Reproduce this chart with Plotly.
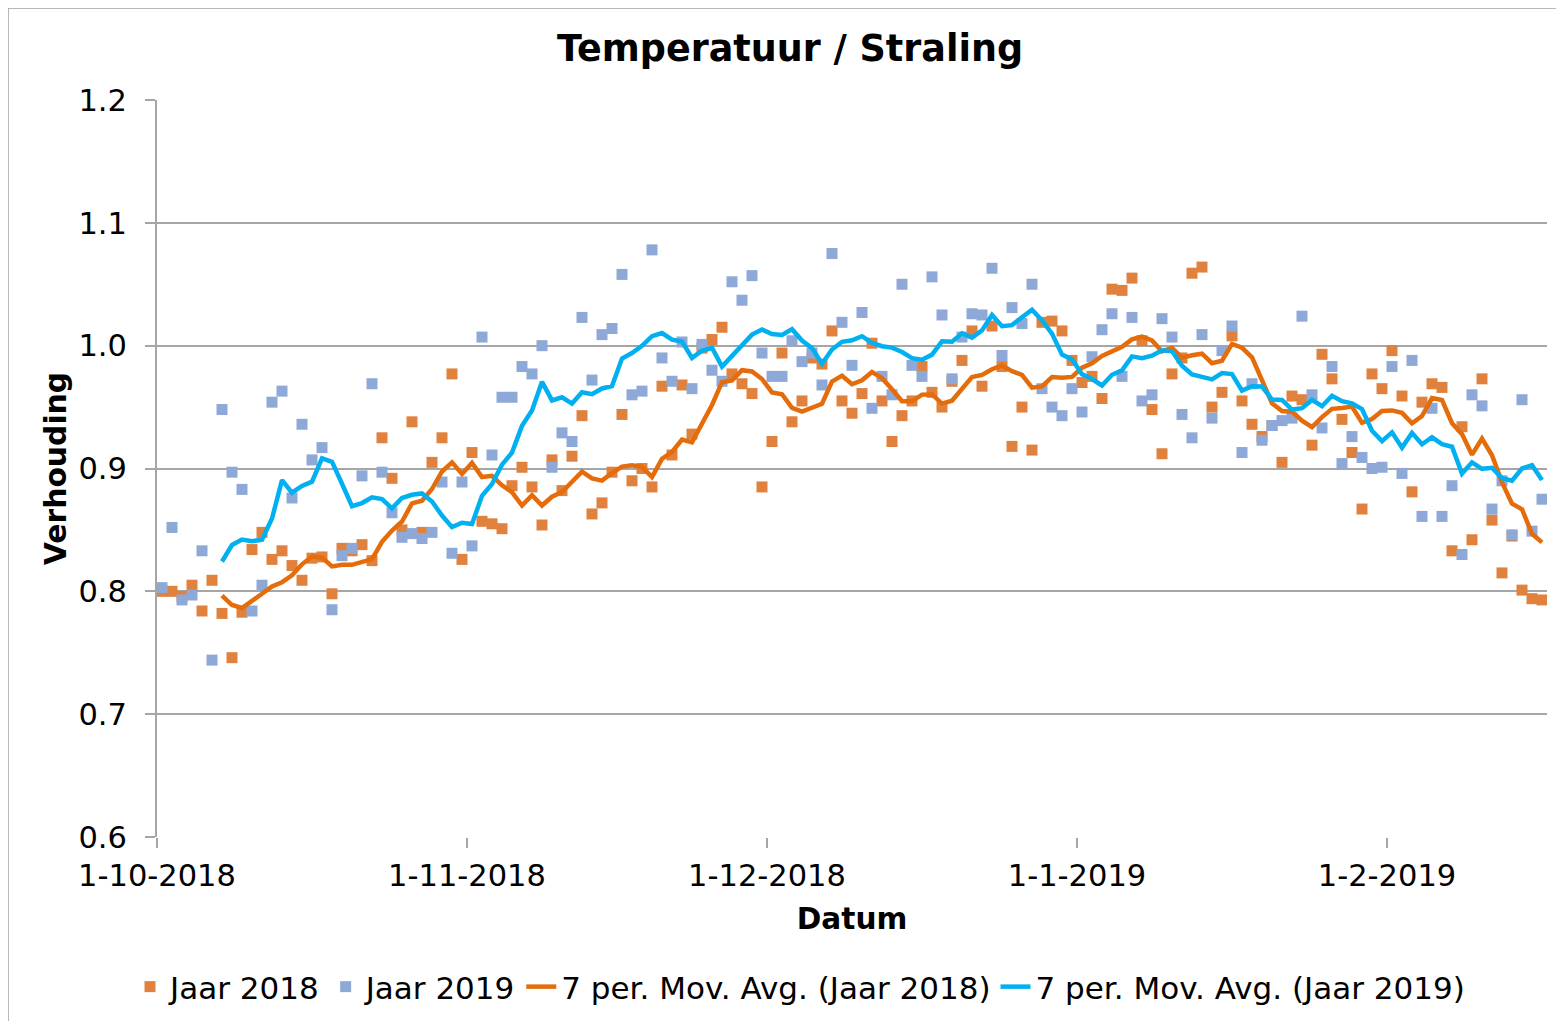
# plot.py
# Temperatuur / Straling - daily ratio 2018 vs 2019 with 7 period moving averages
import pandas as pd
import plotly.graph_objects as go

# Day-by-day values (1-10 .. 16-2)
start_date = "2018-10-01 12:00"

jaar_2018 = [
    0.800, 0.800, 0.796, 0.805, 0.784, 0.809, 0.782, 0.746, 0.783, 0.834,
    0.848, 0.826, 0.833, 0.821, 0.809, 0.827, 0.828, 0.798, 0.835, 0.833,
    0.838, 0.825, 0.925, 0.892, 0.850, 0.938, 0.848, 0.905, 0.925, 0.977,
    0.826, 0.913, 0.857, 0.855, 0.851, 0.886, 0.901, 0.885, 0.854, 0.907,
    0.882, 0.910, 0.943, 0.863, 0.872, 0.897, 0.944, 0.890, 0.900, 0.885,
    0.967, 0.911, 0.968, 0.928, 0.998, 1.005, 1.015, 0.977, 0.969, 0.961,
    0.885, 0.922, 0.994, 0.938, 0.955, 0.990, 0.985, 1.012, 0.955, 0.945,
    0.961, 1.002, 0.955, 0.922, 0.943, 0.955, 0.983, 0.962, 0.950, 0.971,
    0.988, 1.012, 0.967, 1.016, 0.983, 0.918, 0.950, 0.915, 1.019, 1.020,
    1.012, 0.988, 0.970, 0.975, 0.957, 1.046, 1.045, 1.055, 1.004, 0.948,
    0.912, 0.977, 0.990, 1.059, 1.064, 0.950, 0.962, 1.008, 0.955, 0.936,
    0.926, 0.935, 0.905, 0.959, 0.956, 0.919, 0.993, 0.973, 0.940, 0.913,
    0.867, 0.977, 0.965, 0.996, 0.959, 0.881, 0.954, 0.969, 0.966, 0.833,
    0.934, 0.842, 0.973, 0.858, 0.815, 0.845, 0.801, 0.794, 0.793,
]

jaar_2019 = [
    0.803, 0.852, 0.793, 0.797, 0.833, 0.744, 0.948, 0.897, 0.883, 0.784,
    0.805, 0.954, 0.963, 0.876, 0.936, 0.907, 0.917, 0.785, 0.829, 0.835,
    0.894, 0.969, 0.897, 0.864, 0.844, 0.847, 0.843, 0.848, 0.889, 0.831,
    0.889, 0.837, 1.007, 0.911, 0.958, 0.958, 0.983, 0.977, 1.000, 0.901,
    0.929, 0.922, 1.023, 0.972, 1.009, 1.014, 1.058, 0.960, 0.963, 1.078,
    0.990, 0.971, 1.003, 0.965, 1.001, 0.980, 0.971, 1.052, 1.037, 1.057,
    0.994, 0.975, 0.975, 1.004, 0.987, 0.994, 0.968, 1.075, 1.019, 0.984,
    1.027, 0.949, 0.975, 0.960, 1.050, 0.984, 0.975, 1.056, 1.025, 0.973,
    1.007, 1.026, 1.025, 1.063, 0.992, 1.031, 1.018, 1.050, 0.965, 0.950,
    0.943, 0.965, 0.946, 0.991, 1.013, 1.026, 0.975, 1.023, 0.955, 0.960,
    1.022, 1.007, 0.944, 0.925, 1.009, 0.941, 0.996, 1.016, 0.913, 0.969,
    0.923, 0.935, 0.939, 0.941, 1.024, 0.960, 0.933, 0.983, 0.904, 0.926,
    0.909, 0.900, 0.901, 0.983, 0.896, 0.988, 0.861, 0.949, 0.861, 0.886,
    0.830, 0.960, 0.951, 0.867, 0.890, 0.846, 0.956, 0.849, 0.875,
]

FONT = "DejaVu Sans"
ORANGE_PT = "#E0823D"
BLUE_PT = "#8EA9D8"
ORANGE_LN = "#E46C0A"
BLUE_LN = "#00B0F0"
GRID = "#A6A6A6"

dates = pd.date_range(start_date, periods=len(jaar_2018), freq="D")
df = pd.DataFrame({"Jaar 2018": jaar_2018, "Jaar 2019": jaar_2019}, index=dates)

# 7 period trailing moving average (same as the Excel trendline)
ma_2018 = df["Jaar 2018"].rolling(window=7).mean()
ma_2019 = df["Jaar 2019"].rolling(window=7).mean()

fig = go.Figure()

fig.add_trace(go.Scatter(
    x=df.index, y=df["Jaar 2018"], mode="markers", name="Jaar 2018",
    marker=dict(symbol="square", size=11, color=ORANGE_PT),
))
fig.add_trace(go.Scatter(
    x=df.index, y=df["Jaar 2019"], mode="markers", name="Jaar 2019",
    marker=dict(symbol="square", size=11, color=BLUE_PT),
))
fig.add_trace(go.Scatter(
    x=ma_2018.index, y=ma_2018, mode="lines",
    name="7 per. Mov. Avg. (Jaar 2018)",
    line=dict(color=ORANGE_LN, width=4.5),
))
fig.add_trace(go.Scatter(
    x=ma_2019.index, y=ma_2019, mode="lines",
    name="7 per. Mov. Avg. (Jaar 2019)",
    line=dict(color=BLUE_LN, width=4.5),
))

# page body has an 8px margin, so the figure is a little smaller than the window
fig.update_layout(
    width=1556, height=1013,
    paper_bgcolor="white", plot_bgcolor="white",
    font=dict(family=FONT, size=30, color="black"),
    margin=dict(l=149, r=17, t=92, b=184, autoexpand=False),
    title=dict(
        text="<b>Temperatuur / Straling</b>",
        font=dict(size=36.5, family=FONT, color="black"),
        x=0.5026, xanchor="center", y=0.9605, yanchor="middle",
    ),
    xaxis=dict(
        type="date",
        range=["2018-10-01", "2019-02-17"],
        tick0="2018-10-01", dtick="M1", tickformat="%-d-%-m-%Y",
        tickfont=dict(size=30.5),
        ticks="outside", ticklen=10, tickcolor=GRID, tickwidth=2,
        ticklabelstandoff=1,
        showgrid=False, showline=False, zeroline=False,
        title=dict(text="<b>Datum</b>", standoff=16, font=dict(size=29.6)),
    ),
    yaxis=dict(
        range=[0.6, 1.2], dtick=0.1, tickformat=".1f",
        tickfont=dict(size=30.5),
        showgrid=True, gridcolor=GRID, gridwidth=2,
        showline=True, linecolor=GRID, linewidth=2,
        ticks="outside", ticklen=10, tickcolor=GRID, tickwidth=2,
        zeroline=False, ticklabelstandoff=12,
        title=dict(text="<b>Verhouding</b>", standoff=3, font=dict(size=29.8)),
    ),
    legend=dict(
        orientation="h", xref="container", x=0.509, xanchor="center",
        y=-0.2035, yanchor="middle",
        font=dict(size=31), itemwidth=30, tracegroupgap=0,
    ),
    # chart border: only the top and left edges fall inside the picture
    shapes=[dict(
        type="rect", xref="paper", yref="paper",
        x0=-0.1072, x1=1.03, y0=-0.27, y1=1.1248,
        line=dict(color="#A0A0A0", width=1.5), layer="below",
    )],
)

fig.write_html("out.html")
